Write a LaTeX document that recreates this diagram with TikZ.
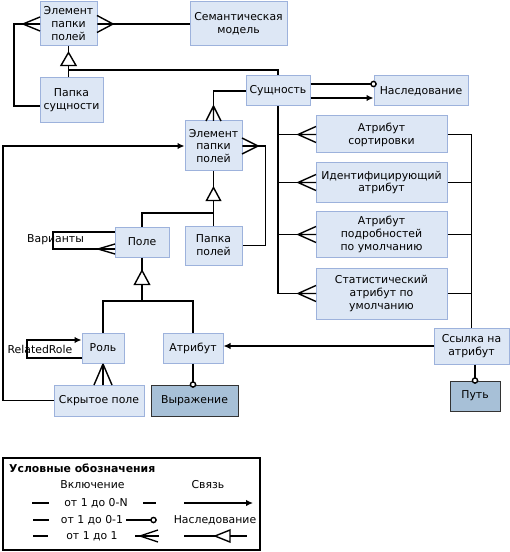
\documentclass[tikz,border=0pt]{standalone}
\usepackage{fontspec}
\setmainfont{DejaVu Sans}
\usetikzlibrary{arrows.meta,calc}
\definecolor{bfill}{HTML}{DDE7F5}
\definecolor{bdraw}{HTML}{9DB2DC}
\definecolor{dfill}{HTML}{A7C0D7}
\definecolor{ddraw}{HTML}{333333}
\newcommand\fs{\fontsize{10.9}{13}\selectfont}
\newcommand\bx[7]{%
  \pgfmathsetmacro\bxw{#4-#2}\pgfmathsetmacro\bxh{#5-#3}%
  \pgfmathsetmacro\bxx{(#2+#4)/2}\pgfmathsetmacro\bxy{(#3+#5)/2}%
  \node[#6,minimum width=\bxw bp,minimum height=\bxh bp] (#1) at (\bxx,\bxy) {#7};}
% horizontal crow foot: apex x, y, edge x, half spread
\newcommand\crowx[4]{\draw[conn] (#1,#2) -- (#3,{#2-#4}) (#1,#2) -- (#3,#2) (#1,#2) -- (#3,{#2+#4});}
% vertical crow foot: x, apex y, edge y, half spread
\newcommand\crowy[4]{\draw[conn] (#1,#2) -- ({#1-#4},#3) (#1,#2) -- (#1,#3) (#1,#2) -- ({#1+#4},#3);}
\begin{document}
\begin{tikzpicture}[x=1bp,y=-1bp,
  conn/.style={line width=1.4bp,black},
  ar/.style={conn,-{Latex[length=7bp,width=6.5bp]}},
  box/.style={draw=bdraw,fill=bfill,line width=1bp,inner sep=0pt,align=center,font=\fs},
  dbox/.style={box,draw=ddraw,fill=dfill},
  lbl/.style={font=\fs,inner sep=0pt},
  tri/.style={conn,fill=white}]
\useasboundingbox (0,0) rectangle (510,552);
\fill[white] (0,0) rectangle (510,552);

% boxes
\bx{e1}{40}{2}{97}{46}{box}{Элемент\\папки\\полей}
\bx{sem}{190}{2}{287}{46}{box}{Семантическая\\модель}
\bx{ps}{40}{78}{103}{123}{box}{Папка\\сущности}
\bx{ent}{246}{76}{310}{106}{box}{Сущность}
\bx{inh}{374}{76}{468}{106}{box}{Наследование}
\bx{sort}{316}{116}{447}{153}{box}{Атрибут\\сортировки}
\bx{ident}{316}{163}{447}{202}{box}{Идентифицирующий\\атрибут}
\bx{det}{316}{212}{447}{257}{box}{Атрибут\\подробностей\\по умолчанию}
\bx{stat}{316}{268}{447}{319}{box}{Статистический\\атрибут по\\умолчанию}
\bx{e2}{185}{121}{242}{171}{box}{Элемент\\папки\\полей}
\bx{pole}{115}{227}{169}{257}{box}{Поле}
\bx{pp}{185}{226}{242}{265}{box}{Папка\\полей}
\bx{role}{82}{333}{124}{363}{box}{Роль}
\bx{attr}{163}{333}{223}{363}{box}{Атрибут}
\bx{hid}{54}{385}{144}{416}{box}{Скрытое поле}
\bx{expr}{151}{385}{238}{416}{dbox}{Выражение}
\bx{ref}{434}{328}{509}{364}{box}{Ссылка на\\атрибут}
\bx{path}{450}{381}{500}{411}{dbox}{Путь}

% Папка сущности -> Элемент (left)
\draw[conn] (ps.west |- 0,106) -| (14,24) -- (e1.west);
\crowx{23}{24}{40}{7}
% Элемент -> Семантическая модель
\draw[conn] (e1.east) -- (sem.west);
\crowx{113}{24}{97}{8.5}
% inheritance to top Элемент
\draw[conn] (e1.south) -- ++(0,6) coordinate (t1);
\draw[conn] (e1.south |- ps.north) -- (e1.south |- 0,65);
\draw[conn] (e1.south |- 0,70) -| (ent.north);
\draw[tri] (t1) -- ++(-7.5,13) -- ++(15,0) -- cycle;

% Сущность -> middle Элемент
\draw[conn] (ent.west) -| (e2.north);
\crowy{213.5}{106}{121}{7.5}

% Сущность -> Наследование
\draw[conn] (ent.east |- 0,84) -- (inh.west |- 0,84);
\draw[ar] (ent.east |- 0,98) -- (inh.west |- 0,98);
\draw[conn,fill=white] (inh.west |- 0,84) circle (2.6bp);

% Сущность -> attribute boxes
\draw[conn] (ent.south) -- (ent.south |- stat.west);
\foreach \n in {sort,ident,det,stat} {\draw[conn] (ent.south |- \n.west) -- (\n.west);}
\crowx{298}{134.5}{316}{8}
\crowx{298}{182.5}{316}{8}
\crowx{298}{234.5}{316}{8}
\crowx{298}{293.5}{316}{8}

% attribute boxes -> Ссылка на атрибут
\draw[conn] (sort.east) -| (ref.north);
\foreach \n in {ident,det,stat} {\draw[conn] (\n.east) -- (ref.north |- \n.east);}
\draw[ar] (ref.west) -- (ref.west -| attr.east);
\draw[conn] (path.north |- ref.south) -- (path.north);
\draw[conn,fill=white] (path.north) circle (2.6bp);

% Папка полей -> middle Элемент
\draw[conn] (e2.east) -- ++(23,0) |- (pp.east);
\crowx{258}{146}{242}{8}

% inheritance to middle Элемент
\draw[conn] (e2.south) -- ++(0,16) coordinate (t2);
\draw[conn] (e2.south |- pp.north) -- (e2.south |- 0,200);
\draw[conn] (e2.south |- 0,213) -| (pole.north);
\draw[tri] (t2) -- ++(-7,13) -- ++(14,0) -- cycle;

% big loop Скрытое поле -> Элемент
\draw[ar] (hid.west) -| (3,146) -- (e2.west);

% Поле self loop
\draw[conn] (pole.west |- 0,232) -| (53,249) -- (pole.west |- 0,249);
\crowx{98}{249}{115}{5}
\node[lbl] (var) at (55.5,240) {Варианты};

% inheritance to Поле
\draw[conn] (pole.south) -- ++(0,13) coordinate (t3);
\draw[conn] (t3) ++(0,14) -- (pole.south |- 0,301);
\draw[conn] (role.north) |- (attr.north |- 0,301) -- (attr.north);
\draw[tri] (t3) -- ++(-7.5,14) -- ++(15,0) -- cycle;

% Роль self loop
\draw[ar] (role.west |- 0,358) -| (27,340) -- (role.west |- 0,340);
\node[lbl] (rr) at (40,349) {RelatedRole};

% Роль -> Скрытое поле
\draw[conn] (role.south) -- (role.south |- hid.north);
\crowy{103}{364}{385}{9}

% Атрибут -> Выражение
\draw[conn] (attr.south) -- (attr.south |- expr.north);
\draw[conn,fill=white] (attr.south |- expr.north) circle (2.6bp);

% legend
\bx{leg}{3}{458}{260}{550}{draw=black,line width=1.4bp,fill=white}{}
\node[lbl,font=\fs\bfseries,anchor=west] (lt) at (9,468) {Условные обозначения};
\node[lbl] (l1) at (92.5,485) {Включение};
\node[lbl] (l2) at (208,485) {Связь};
\draw[conn] (32,503) -- (49,503);
\node[lbl] (l3) at (96,503) {от 1 до 0-N};
\draw[conn] (143,503) -- (156,503);
\draw[ar] (184,503) -- (253,503);
\draw[conn] (33,520) -- (49,520);
\node[lbl] (l4) at (92,520) {от 1 до 0-1};
\draw[conn] (126,520) -- (151,520);
\draw[conn,fill=white] (153.5,520) circle (2.6bp);
\node[lbl] (l5) at (215,520) {Наследование};
\draw[conn] (33,536) -- (48,536);
\node[lbl] (l6) at (92,536) {от 1 до 1};
\draw[conn] (135,536) -- (159,536);
\crowx{140}{536}{158}{6}
\draw[conn] (184,536) -- (215,536);
\draw[tri] (215,536) -- (230,530) -- (230,542) -- cycle;
\draw[conn] (230,536) -- (247,536);
\end{tikzpicture}
\end{document}
